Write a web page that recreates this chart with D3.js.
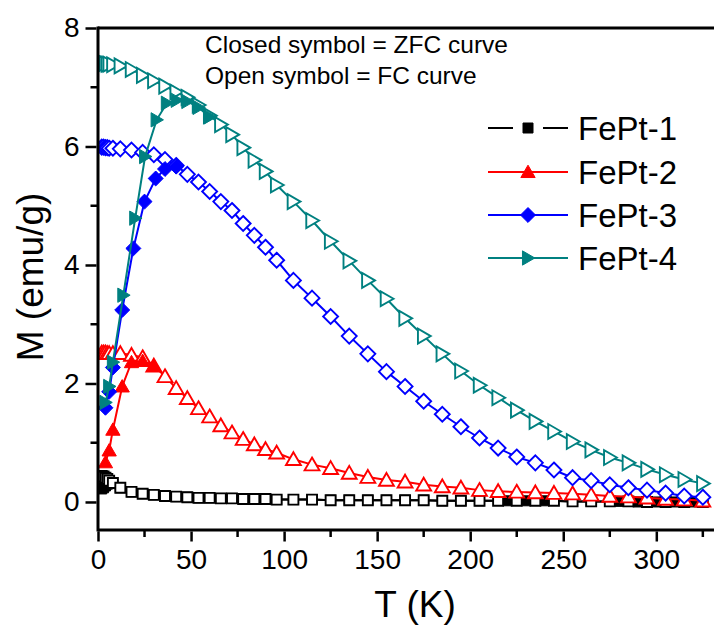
<!DOCTYPE html>
<html>
<head>
<meta charset="utf-8">
<script src="https://cdn.jsdelivr.net/npm/d3@7"></script>
<style>
  html, body { margin: 0; padding: 0; background: #ffffff; }
  svg { display: block; }
  text { font-family: Arial, "Liberation Sans", sans-serif; fill: #000; }
</style>
</head>
<body>
<svg id="chart" width="714" height="626"></svg>
<script>
// ---------------- DATA ----------------
const seriesNames = ["FePt-1", "FePt-2", "FePt-3", "FePt-4"];
const seriesColors = ["#000000", "#ff0000", "#0000ff", "#008080"];
const xTicks = [0, 50, 100, 150, 200, 250, 300];
const yTicks = [0, 2, 4, 6, 8];

// FC (open symbols) temperatures, K
const fcT = [2, 3, 4, 5, 6, 8, 12, 18, 24, 30, 36, 42, 48, 54, 60, 66, 72, 78, 84, 90, 96,
  105, 115, 125, 135, 145, 155, 165, 175, 185, 195, 205, 215, 225, 235, 245, 255, 265,
  275, 285, 295, 305, 315, 325];
// FC magnetization, emu/g
const fc1 = [0.44, 0.43, 0.41, 0.39, 0.36, 0.32, 0.24, 0.17, 0.14, 0.12, 0.10, 0.09, 0.08, 0.07, 0.07,
  0.06, 0.06, 0.05, 0.05, 0.05, 0.04, 0.04, 0.04, 0.03, 0.03, 0.03, 0.03, 0.03, 0.03, 0.02, 0.02,
  0.02, 0.02, 0.02, 0.02, 0.02, 0.01, 0.01, 0.01, 0.01, 0.0, 0.0, 0.0, 0.0];
const fc2 = [2.52, 2.52, 2.52, 2.51, 2.51, 2.51, 2.51, 2.48, 2.44, 2.30, 2.12, 1.92, 1.75, 1.58, 1.44,
  1.29, 1.17, 1.06, 0.97, 0.89, 0.83, 0.72, 0.63, 0.57, 0.49, 0.42, 0.37, 0.34, 0.29, 0.26, 0.24,
  0.20, 0.18, 0.17, 0.16, 0.15, 0.14, 0.12, 0.10, 0.09, 0.07, 0.05, 0.04, 0.02];
const fc3 = [5.99, 5.99, 5.98, 5.98, 5.97, 5.97, 5.96, 5.94, 5.90, 5.86, 5.78, 5.68, 5.53, 5.40, 5.24,
  5.07, 4.92, 4.70, 4.50, 4.30, 4.08, 3.74, 3.44, 3.13, 2.80, 2.50, 2.20, 1.95, 1.70, 1.48, 1.27,
  1.08, 0.91, 0.76, 0.66, 0.54, 0.41, 0.36, 0.29, 0.24, 0.20, 0.15, 0.10, 0.08];
const fc4 = [7.40, 7.40, 7.40, 7.39, 7.39, 7.38, 7.36, 7.30, 7.20, 7.11, 7.02, 6.92, 6.83, 6.70, 6.52,
  6.37, 6.20, 5.98, 5.77, 5.58, 5.35, 5.07, 4.75, 4.40, 4.07, 3.74, 3.43, 3.10, 2.80, 2.50, 2.21,
  1.97, 1.76, 1.55, 1.36, 1.19, 1.02, 0.88, 0.75, 0.66, 0.55, 0.46, 0.38, 0.31];

// ZFC (closed symbols)
const zfcT1 = [2, 3, 4, 5, 6, 8, 12, 18, 24, 30, 36, 42, 48, 54, 60, 66, 72, 78, 84, 90, 96,
  105, 115, 125, 135, 145, 155, 165, 175, 185, 195, 205, 220, 230, 240, 255, 265, 280, 290, 300, 310, 320];
const zfc1 = [0.22, 0.24, 0.27, 0.30, 0.32, 0.31, 0.24, 0.17, 0.14, 0.12, 0.10, 0.09, 0.08, 0.07, 0.07,
  0.06, 0.06, 0.05, 0.05, 0.05, 0.04, 0.04, 0.04, 0.03, 0.03, 0.03, 0.03, 0.03, 0.03, 0.02, 0.02,
  0.02, 0.02, 0.02, 0.02, 0.01, 0.01, 0.01, 0.0, 0.0, 0.0, 0.0];
const zfcT2 = [4, 6, 8, 13, 18, 24, 30];
const zfc2 = [0.67, 0.87, 1.22, 1.95, 2.36, 2.38, 2.30];
const zfcT3 = [4, 6, 8, 13, 19, 25, 31, 36, 42];
const zfc3 = [1.59, 1.86, 2.27, 3.24, 4.28, 5.07, 5.46, 5.62, 5.66];
const zfcT4 = [4, 6, 8, 13.6, 20, 25.3, 31.5, 37, 42.3, 48, 54, 60];
const zfc4 = [1.68, 1.95, 2.36, 3.49, 4.79, 5.83, 6.45, 6.73, 6.78, 6.76, 6.66, 6.50];

// ---------------- CHART ----------------
const svg = d3.select("#chart");
const L = 98, T0 = 28, R = 714, B = 530;
const x = d3.scaleLinear().domain([0, 331]).range([L, R]);
const y = d3.scaleLinear().domain([-0.473, 8]).range([B, T0]);

const defs = svg.append("defs");
defs.append("clipPath").attr("id", "clip")
  .append("rect").attr("x", L).attr("y", T0 - 10).attr("width", R - L + 10).attr("height", B - T0 + 10);

// marker shapes (relative to the point)
function shapePath(kind, s) {
  const h = s / 2;
  switch (kind) {
    case "square": return `M${-h},${-h}H${h}V${h}H${-h}Z`;
    case "up": return `M0,${-h * 1.05}L${h * 1.1},${h * 0.85}L${-h * 1.1},${h * 0.85}Z`;
    case "diamond": return `M0,${-h * 1.15}L${h * 1.15},0L0,${h * 1.15}L${-h * 1.15},0Z`;
    case "right": return `M${h * 1.05},0L${-h * 0.85},${-h * 1.1}L${-h * 0.85},${h * 1.1}Z`;
  }
}
const kinds = ["square", "up", "diamond", "right"];
const openSize = [10, 13.5, 13, 13.5];
const closedSize = [10, 13, 13, 13];

const line = d3.line().x(d => x(d[0])).y(d => y(d[1]));
const plot = svg.append("g").attr("clip-path", "url(#clip)");

function drawSeries(idx, Ts, Ms, open) {
  const data = Ts.map((t, i) => [t, Ms[i]]);
  const col = seriesColors[idx];
  const g = plot.append("g");
  g.append("path").datum(data).attr("d", line)
    .attr("fill", "none").attr("stroke", col).attr("stroke-width", 2);
  g.selectAll("path.m").data(data).enter().append("path").attr("class", "m")
    .attr("transform", d => `translate(${x(d[0])},${y(d[1])})`)
    .attr("d", shapePath(kinds[idx], open ? openSize[idx] : closedSize[idx]))
    .attr("fill", open ? "#ffffff" : col)
    .attr("stroke", col).attr("stroke-width", open ? 1.9 : 1);
}

const fcs = [fc1, fc2, fc3, fc4];
const zfcTs = [zfcT1, zfcT2, zfcT3, zfcT4];
const zfcs = [zfc1, zfc2, zfc3, zfc4];

// FePt-1: ZFC under FC
drawSeries(0, zfcT1, zfc1, false);
drawSeries(0, fcT, fc1, true);
for (let i = 1; i < 4; i++) {
  drawSeries(i, fcT, fcs[i], true);
  drawSeries(i, zfcTs[i], zfcs[i], false);
}

// Axes
const axW = 3;
svg.append("line").attr("x1", L).attr("x2", R).attr("y1", B).attr("y2", B)
  .attr("stroke", "#000").attr("stroke-width", axW);
svg.append("line").attr("x1", L).attr("x2", R).attr("y1", T0).attr("y2", T0)
  .attr("stroke", "#000").attr("stroke-width", axW);
svg.append("line").attr("x1", L).attr("x2", L).attr("y1", T0 - 1.5).attr("y2", B + 1.5)
  .attr("stroke", "#000").attr("stroke-width", axW);

const xAxis = d3.axisBottom(x).tickValues(xTicks).tickSize(10).tickPadding(8).tickFormat(d3.format("d"));
const gx = svg.append("g").attr("transform", `translate(0,${B + 1.5})`).call(xAxis);
gx.select(".domain").remove();
gx.selectAll(".tick line").attr("stroke-width", 2.5);
gx.selectAll(".tick text").attr("font-size", 28).style("font-family", "Arial, 'Liberation Sans', sans-serif");
const xMinor = d3.range(25, 331, 50);
svg.append("g").selectAll("line").data(xMinor).enter().append("line")
  .attr("x1", d => x(d)).attr("x2", d => x(d)).attr("y1", B).attr("y2", B + 7)
  .attr("stroke", "#000").attr("stroke-width", 2.5);

const yAxis = d3.axisLeft(y).tickValues(yTicks).tickSize(11).tickPadding(6).tickFormat(d3.format("d"));
const gy = svg.append("g").attr("transform", `translate(${L - 1.5},0)`).call(yAxis);
gy.select(".domain").remove();
gy.selectAll(".tick line").attr("stroke-width", 2.5);
gy.selectAll(".tick text").attr("font-size", 28).style("font-family", "Arial, 'Liberation Sans', sans-serif");
const yMinor = [1, 3, 5, 7];
svg.append("g").selectAll("line").data(yMinor).enter().append("line")
  .attr("x1", L - 7.5).attr("x2", L).attr("y1", d => y(d)).attr("y2", d => y(d))
  .attr("stroke", "#000").attr("stroke-width", 2.5);

// Axis titles
svg.append("text").attr("x", 415).attr("y", 617).attr("text-anchor", "middle")
  .attr("font-size", 37).text("T (K)");
svg.append("text").attr("transform", "translate(43,277) rotate(-90)").attr("text-anchor", "middle")
  .attr("font-size", 37).text("M (emu/g)");

// Annotation
svg.append("text").attr("x", 205).attr("y", 53).attr("font-size", 24.5).text("Closed symbol = ZFC curve");
svg.append("text").attr("x", 205).attr("y", 84).attr("font-size", 24.5).text("Open symbol = FC curve");

// Legend
const legY = [128, 172, 215, 258];
const lg = svg.append("g");
seriesNames.forEach((name, i) => {
  const col = seriesColors[i];
  const yy = legY[i];
  if (i === 0) {
    lg.append("line").attr("x1", 488).attr("x2", 513).attr("y1", yy).attr("y2", yy).attr("stroke", col).attr("stroke-width", 2);
    lg.append("line").attr("x1", 543).attr("x2", 568).attr("y1", yy).attr("y2", yy).attr("stroke", col).attr("stroke-width", 2);
  } else {
    lg.append("line").attr("x1", 488).attr("x2", 568).attr("y1", yy).attr("y2", yy).attr("stroke", col).attr("stroke-width", 2);
  }
  lg.append("path").attr("transform", `translate(528,${yy})`)
    .attr("d", shapePath(kinds[i], closedSize[i])).attr("fill", col).attr("stroke", col).attr("stroke-width", 1);
  lg.append("text").attr("x", 578).attr("y", yy + 11.5).attr("font-size", 33).text(name);
});
</script>
</body>
</html>
